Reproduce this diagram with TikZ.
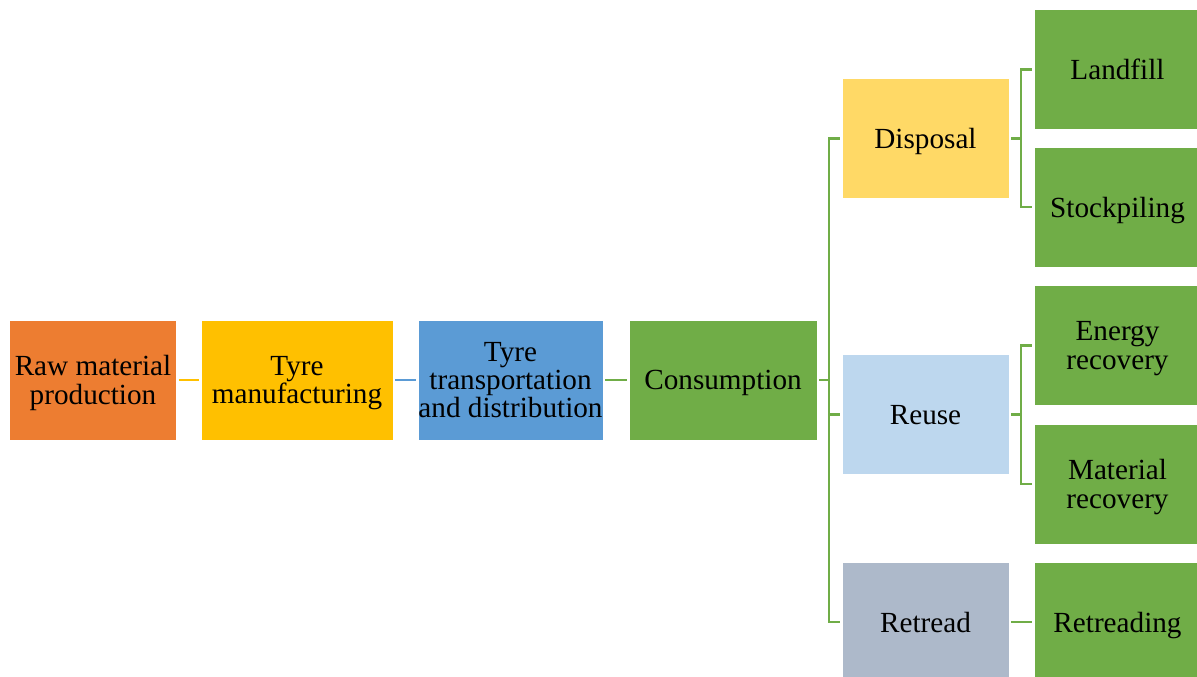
\documentclass[tikz,border=0pt]{standalone}
\usepackage{fontspec}
\setmainfont{Liberation Serif}
\definecolor{rawc}{HTML}{ED7D31}
\definecolor{gold}{HTML}{FFC000}
\definecolor{bluec}{HTML}{5B9BD5}
\definecolor{greenc}{HTML}{70AD47}
\definecolor{disc}{HTML}{FFD966}
\definecolor{reuc}{HTML}{BDD7EE}
\definecolor{retc}{HTML}{ADB9CA}
\begin{document}
\begin{tikzpicture}[x=0.5pt, y=-0.5pt,
    stage/.style={minimum width=83.5pt, minimum height=60pt, inner sep=0pt, outer sep=1.2pt,
        align=center, draw=white, line width=0.4pt, text depth=0pt,
        font=\fontsize{14.6}{14.2}\selectfont},
    con/.style={line width=1.3pt, greenc}]
    \useasboundingbox (0,0) rectangle (1197,676);
    % main chain
    \node[stage, fill=rawc] (raw) at (93,380) {Raw material\\production};
    \node[stage, fill=gold, minimum width=96pt] (manu) at (297,380) {Tyre\\manufacturing};
    \node[stage, fill=bluec, minimum width=92.5pt] (trans) at (510.5,380) {Tyre\\transportation\\and distribution};
    \node[stage, fill=greenc, minimum width=94pt] (cons) at (723,380) {Consumption};
    \draw[con, gold] (raw) -- (manu);
    \draw[con, bluec] (manu) -- (trans);
    \draw[con] (trans) -- (cons);
    % end of life
    \node[stage, fill=disc] (disp) at (925.5,138.5) {Disposal};
    \node[stage, fill=reuc] (reuse) at (925.5,414.5) {Reuse};
    \node[stage, fill=retc] (retread) at (925.5,622) {Retread};
    \coordinate (bus) at (829,380);
    \draw[con] (cons) -- (bus);
    \draw[con] (disp.west) -| (bus);
    \draw[con] (reuse.west) -| (bus);
    \draw[con] (retread.west) -| (bus);
    % treatment
    \node[stage, fill=greenc] (landfill) at (1117.5,69.5) {Landfill};
    \node[stage, fill=greenc] (stock) at (1117.5,207) {Stockpiling};
    \node[stage, fill=greenc] (energy) at (1117.5,345.5) {Energy\\recovery};
    \node[stage, fill=greenc] (material) at (1117.5,484) {Material\\recovery};
    \node[stage, fill=greenc] (retreading) at (1117.5,622) {Retreading};
    \coordinate (dbus) at (1021,138.5);
    \coordinate (rbus) at (1021,414.5);
    \draw[con] (disp) -- (dbus);
    \draw[con] (landfill.west) -| (dbus);
    \draw[con] (stock.west) -| (dbus);
    \draw[con] (reuse) -- (rbus);
    \draw[con] (energy.west) -| (rbus);
    \draw[con] (material.west) -| (rbus);
    \draw[con] (retread) -- (retreading);
\end{tikzpicture}
\end{document}
